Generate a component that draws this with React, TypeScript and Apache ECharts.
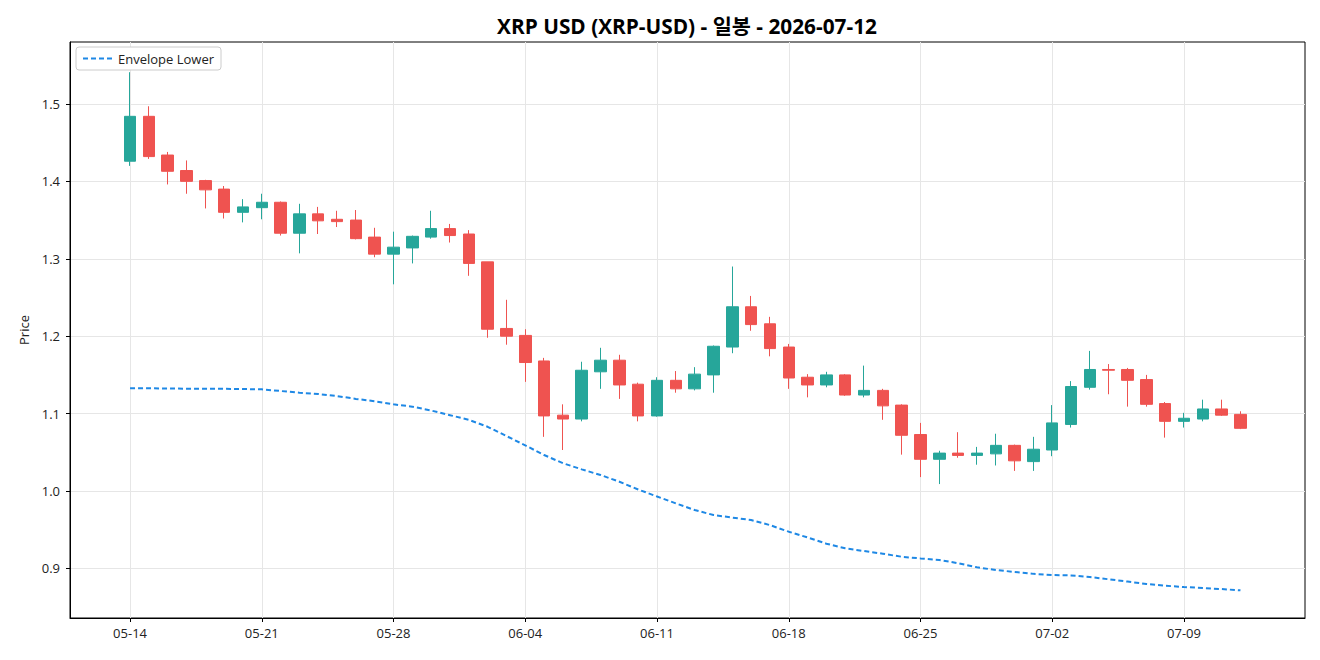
import React, { useEffect, useRef } from "react";
import * as echarts from "echarts";

const dates = [
  "05-14", "05-15", "05-16", "05-17", "05-18", "05-19", "05-20", "05-21", "05-22", "05-23",
  "05-24", "05-25", "05-26", "05-27", "05-28", "05-29", "05-30", "05-31", "06-01", "06-02",
  "06-03", "06-04", "06-05", "06-06", "06-07", "06-08", "06-09", "06-10", "06-11", "06-12",
  "06-13", "06-14", "06-15", "06-16", "06-17", "06-18", "06-19", "06-20", "06-21", "06-22",
  "06-23", "06-24", "06-25", "06-26", "06-27", "06-28", "06-29", "06-30", "07-01", "07-02",
  "07-03", "07-04", "07-05", "07-06", "07-07", "07-08", "07-09", "07-10", "07-11", "07-12",
];

const opens = [
  1.426, 1.484, 1.434, 1.414, 1.401, 1.390, 1.360, 1.366, 1.373, 1.333,
  1.358, 1.351, 1.350, 1.328, 1.306, 1.314, 1.328, 1.339, 1.332, 1.296,
  1.210, 1.201, 1.168, 1.098, 1.093, 1.154, 1.169, 1.138, 1.097, 1.143,
  1.132, 1.150, 1.186, 1.238, 1.216, 1.186, 1.147, 1.137, 1.150, 1.124,
  1.130, 1.111, 1.073, 1.041, 1.049, 1.046, 1.048, 1.059, 1.038, 1.053,
  1.086, 1.134, 1.157, 1.157, 1.144, 1.113, 1.090, 1.093, 1.106, 1.099,
];
const closes = [
  1.484, 1.432, 1.413, 1.400, 1.389, 1.360, 1.367, 1.373, 1.333, 1.358,
  1.349, 1.348, 1.326, 1.306, 1.315, 1.329, 1.339, 1.330, 1.294, 1.209,
  1.200, 1.166, 1.097, 1.093, 1.156, 1.169, 1.137, 1.097, 1.143, 1.132,
  1.151, 1.187, 1.238, 1.215, 1.184, 1.146, 1.137, 1.150, 1.124, 1.130,
  1.110, 1.072, 1.041, 1.049, 1.046, 1.049, 1.059, 1.039, 1.054, 1.088,
  1.135, 1.157, 1.156, 1.143, 1.112, 1.090, 1.094, 1.106, 1.098, 1.081,
];
const lows = [
  1.420, 1.429, 1.396, 1.384, 1.365, 1.352, 1.347, 1.351, 1.330, 1.307,
  1.332, 1.341, 1.325, 1.302, 1.267, 1.294, 1.326, 1.321, 1.278, 1.198,
  1.189, 1.141, 1.070, 1.053, 1.090, 1.132, 1.119, 1.090, 1.096, 1.127,
  1.130, 1.127, 1.178, 1.207, 1.174, 1.132, 1.121, 1.134, 1.123, 1.121,
  1.092, 1.047, 1.018, 1.009, 1.043, 1.034, 1.033, 1.026, 1.026, 1.045,
  1.082, 1.131, 1.125, 1.109, 1.109, 1.069, 1.082, 1.090, 1.097, 1.080,
];
const highs = [
  1.541, 1.497, 1.438, 1.427, 1.402, 1.394, 1.377, 1.384, 1.374, 1.371,
  1.367, 1.362, 1.363, 1.340, 1.335, 1.330, 1.362, 1.345, 1.337, 1.296,
  1.247, 1.209, 1.172, 1.112, 1.167, 1.185, 1.176, 1.140, 1.147, 1.155,
  1.160, 1.188, 1.290, 1.252, 1.225, 1.190, 1.151, 1.154, 1.151, 1.162,
  1.132, 1.112, 1.088, 1.052, 1.076, 1.057, 1.074, 1.060, 1.070, 1.111,
  1.142, 1.181, 1.164, 1.159, 1.150, 1.115, 1.101, 1.118, 1.118, 1.103,
];
const envelopeLower = [
  1.1327, 1.1327, 1.1325, 1.1322, 1.132, 1.132, 1.1317, 1.1314, 1.1292, 1.127,
  1.1253, 1.1227, 1.119, 1.116, 1.112, 1.109, 1.104, 1.098, 1.092, 1.083,
  1.071, 1.059, 1.0465, 1.036, 1.028, 1.0207, 1.012, 1.002, 0.993, 0.984,
  0.9755, 0.969, 0.9657, 0.9625, 0.956, 0.9475, 0.94, 0.932, 0.926, 0.9225,
  0.919, 0.9151, 0.913, 0.911, 0.9067, 0.9015, 0.898, 0.8955, 0.893, 0.8915,
  0.891, 0.889, 0.886, 0.883, 0.88, 0.8777, 0.876, 0.8747, 0.8734, 0.8717,
];

const xTickIndex = [0, 7, 14, 21, 28, 35, 42, 49, 56];
const yTicks = [0.9, 1.0, 1.1, 1.2, 1.3, 1.4, 1.5];

const TITLE = "XRP USD (XRP-USD) - 일봉 - 2026-07-12";
const FONT = "'Open Sans', 'Noto Sans CJK KR', sans-serif";

export default function App() {
  const ref = useRef<HTMLDivElement>(null);

  useEffect(() => {
    document.body.style.margin = "0";
    const chart = echarts.init(ref.current!, null, { renderer: "svg" });

    const candleData = dates.map((_, i) => [i, opens[i], closes[i], lows[i], highs[i]]);
    const lineData = dates.map((_, i) => [i, envelopeLower[i]]);

    chart.setOption({
      animation: false,
      backgroundColor: "#fff",
      textStyle: { fontFamily: FONT },
      graphic: [
        {
          type: "text",
          x: 687,
          y: 26,
          style: {
            text: TITLE,
            textAlign: "center",
            textVerticalAlign: "middle",
            fontSize: 20.8,
            fontWeight: "bold",
            fontFamily: FONT,
            fill: "#000",
          },
        },
      ],
      legend: {
        data: ["Envelope Lower"],
        left: 76,
        top: 47,
        orient: "horizontal",
        backgroundColor: "#fff",
        borderColor: "#cccccc",
        borderWidth: 1,
        borderRadius: 3,
        padding: [5, 7, 5, 6],
        itemWidth: 30,
        itemHeight: 14,
        itemGap: 6,
        itemStyle: { opacity: 0 },
        lineStyle: { color: "#1e88e5", width: 2, type: [5, 3], opacity: 1 },
        textStyle: { fontSize: 13, color: "#222", fontFamily: FONT },
      },
      grid: {
        left: 70,
        right: 15,
        top: 42,
        bottom: 42,
        show: true,
        borderColor: "#000",
        borderWidth: 1,
        backgroundColor: "transparent",
      },
      xAxis: {
        type: "value",
        min: -3.19,
        max: 62.43,
        axisLine: { show: true, onZero: false, lineStyle: { color: "#000", width: 1 } },
        axisTick: {
          show: true,
          customValues: xTickIndex,
          length: 4,
          lineStyle: { color: "#000" },
        },
        axisLabel: {
          customValues: xTickIndex,
          formatter: (v: number) => dates[Math.round(v)] ?? "",
          color: "#222",
          fontSize: 13,
          margin: 8,
          fontFamily: FONT,
        },
        splitLine: { show: true, lineStyle: { color: "#e6e6e6", width: 1 } },
      },
      yAxis: {
        type: "value",
        min: 0.836,
        max: 1.58,
        name: "Price",
        nameLocation: "middle",
        nameGap: 40,
        nameRotate: 90,
        nameTextStyle: { fontSize: 13, color: "#222", fontFamily: FONT },
        axisLine: { show: true, onZero: false, lineStyle: { color: "#000", width: 1 } },
        axisTick: {
          show: true,
          customValues: yTicks,
          length: 4,
          lineStyle: { color: "#000" },
        },
        axisLabel: {
          customValues: yTicks,
          formatter: (v: number) => v.toFixed(1),
          color: "#222",
          fontSize: 13,
          margin: 10,
          fontFamily: FONT,
        },
        splitLine: { show: true, lineStyle: { color: "#e6e6e6", width: 1 } },
      },
      series: [
        {
          type: "candlestick",
          name: "XRP-USD",
          data: candleData,
          encode: { x: 0, y: [1, 2, 3, 4] },
          barWidth: 12,
          itemStyle: {
            color: "#26a69a",
            color0: "#ef5350",
            borderColor: "#26a69a",
            borderColor0: "#ef5350",
            borderWidth: 1,
          },
        },
        {
          type: "line",
          name: "Envelope Lower",
          data: lineData,
          showSymbol: false,
          symbol: "none",
          lineStyle: { color: "#1e88e5", width: 2, type: [5, 3] },
          itemStyle: { color: "#1e88e5" },
          z: 3,
        },
      ],
    });

    return () => chart.dispose();
  }, []);

  return <div ref={ref} style={{ width: 1320, height: 660 }} />;
}
